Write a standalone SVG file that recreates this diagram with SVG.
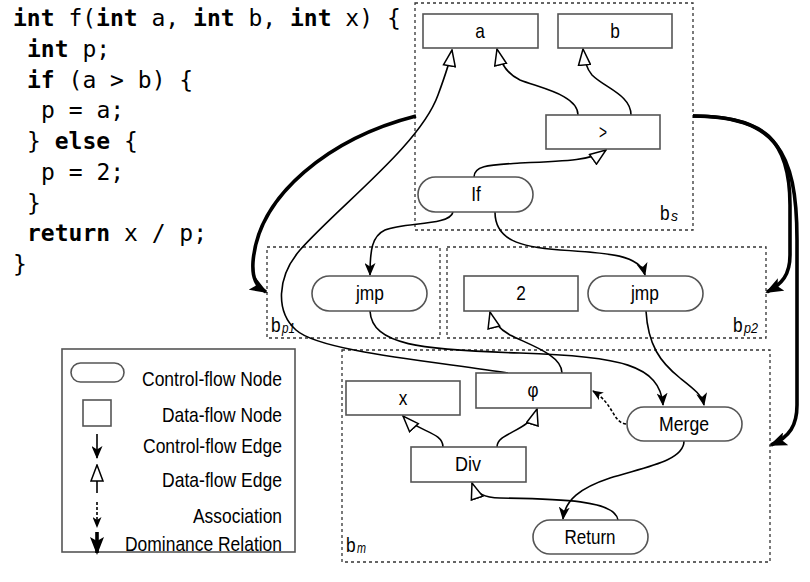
<svg xmlns="http://www.w3.org/2000/svg" width="810" height="582" viewBox="0 0 810 582">
<style>
.code{font-family:"DejaVu Sans Mono","Liberation Mono",monospace;font-size:23px;fill:#000}
.kw{font-weight:bold}
.lbl{font-family:"Liberation Sans Narrow","Liberation Sans",Arial,sans-serif;font-size:21px;fill:#000;text-anchor:middle}
.bl{font-family:"Liberation Sans Narrow","Liberation Sans",Arial,sans-serif;font-size:21px;fill:#000}
.sub{font-family:"Liberation Sans Narrow","Liberation Sans",Arial,sans-serif;font-style:italic;font-size:14px;fill:#000}
.leg{font-family:"Liberation Sans Narrow","Liberation Sans",Arial,sans-serif;font-size:21px;fill:#000;text-anchor:end}
.blk{fill:none;stroke:#333;stroke-width:1.3;stroke-dasharray:3 3}
.nd{fill:#fff;stroke:#555;stroke-width:1.6}
.e{fill:none;stroke:#000;stroke-width:1.6}
.cf{marker-end:url(#cf)}
.df{marker-end:url(#df)}
.as{stroke-dasharray:3 2;marker-end:url(#as)}
.dom{fill:none;stroke:#000;stroke-width:3.6;marker-end:url(#dom)}
</style>
<defs>
<marker id="cf" viewBox="0 0 13 11" refX="12" refY="5.5" markerWidth="13" markerHeight="11" markerUnits="userSpaceOnUse" orient="auto"><path d="M0,0 L13,5.5 L0,11 L3.5,5.5 z" fill="#000"/></marker>
<marker id="df" viewBox="-1 -1 18 14" refX="16" refY="6" markerWidth="18" markerHeight="14" markerUnits="userSpaceOnUse" orient="auto"><path d="M0,0 L16,6 L0,12 z" fill="#fff" stroke="#000" stroke-width="1.5"/></marker>
<marker id="as" viewBox="0 0 11 9" refX="10" refY="4.5" markerWidth="11" markerHeight="9" markerUnits="userSpaceOnUse" orient="auto"><path d="M0,0 L11,4.5 L0,9 L3,4.5 z" fill="#000"/></marker>
<marker id="dom" viewBox="0 0 18 14" refX="16" refY="7" markerWidth="18" markerHeight="14" markerUnits="userSpaceOnUse" orient="auto"><path d="M0,0 L18,7 L0,14 L4,7 z" fill="#000"/></marker>
</defs>

<g id="code" class="code" xml:space="preserve">
<text x="13" y="26"><tspan class="kw">int</tspan> f(<tspan class="kw">int</tspan> a, <tspan class="kw">int</tspan> b, <tspan class="kw">int</tspan> x) {</text>
<text x="27" y="57"><tspan class="kw">int</tspan> p;</text>
<text x="27" y="88"><tspan class="kw">if</tspan> (a &gt; b) {</text>
<text x="41" y="118">p = a;</text>
<text x="27" y="149">} <tspan class="kw">else</tspan> {</text>
<text x="41" y="180">p = 2;</text>
<text x="27" y="211">}</text>
<text x="27" y="241"><tspan class="kw">return</tspan> x / p;</text>
<text x="13" y="272">}</text>
</g>

<g id="blocks">
<g id="bs"><rect class="blk" x="415" y="3" width="278" height="227"/><text class="bl" x="660" y="220" textLength="9.6" lengthAdjust="spacingAndGlyphs">b</text><text class="sub" x="671" y="221">s</text></g>
<g id="bp1"><rect class="blk" x="267" y="247" width="173" height="91"/><text class="bl" x="271" y="332" textLength="9.6" lengthAdjust="spacingAndGlyphs">b</text><text class="sub" x="282" y="333" textLength="13" lengthAdjust="spacingAndGlyphs">p1</text></g>
<g id="bp2"><rect class="blk" x="447" y="247" width="319" height="91"/><text class="bl" x="733" y="332" textLength="9.6" lengthAdjust="spacingAndGlyphs">b</text><text class="sub" x="744" y="333" textLength="14" lengthAdjust="spacingAndGlyphs">p2</text></g>
<g id="bm"><rect class="blk" x="342" y="350" width="428" height="212"/><text class="bl" x="346" y="552" textLength="9.6" lengthAdjust="spacingAndGlyphs">b</text><text class="sub" x="357" y="553" textLength="9" lengthAdjust="spacingAndGlyphs">m</text></g>
</g>

<g id="connectors">
<path class="dom" d="M416,116 C330,138 258,195 253,262 C252,278 256,286 266,292"/>
<path class="dom" d="M693,116 C765,116 790,140 790,205 L790,255 C790,275 782,284 767,292"/>
<path class="dom" d="M693,116 C775,116 797,150 797,240 L797,405 C797,425 790,437 771,445"/>
<path class="e df" d="M508,373 C440,362 320,352 296,330 C276,312 276,278 300,250 C340,205 420,145 438,95 C445,76 450,62 452,50"/>
<path class="e df" d="M578,115 C578,95 540,88 520,80 C507,74 500,62 497,49"/>
<path class="e df" d="M631,115 C631,95 605,88 592,75 C586,68 584,60 583,49"/>
<path class="e df" d="M474,177 C474,165 490,165 520,163 C570,161 592,160 606,150"/>
<path class="e df" d="M562,373 C562,355 530,345 510,335 C498,328 492,320 490,312"/>
<path class="e df" d="M443,447 C443,432 418,432 403,416"/>
<path class="e df" d="M497,447 C497,432 530,432 537,409"/>
<path class="e df" d="M618,520 C615,500 560,499 500,498 C484,498 475,492 472,483"/>
<path class="e cf" d="M453,212 C450,226 405,222 385,230 C372,236 370,250 370,275"/>
<path class="e cf" d="M495,212 C495,240 520,247 560,250 C610,253 640,255 645,275"/>
<path class="e cf" d="M370,311 C372,345 420,350 520,353 C620,356 660,365 663,405"/>
<path class="e cf" d="M646,311 C648,345 660,362 680,378 C694,389 702,395 704,405"/>
<path class="e cf" d="M684,441 C684,462 640,468 610,478 C580,488 565,500 563,519"/>
<path class="e as" d="M626,424 C612,422 615,405 593,391"/>
</g>

<g id="n_a"><rect class="nd" x="423" y="14" width="115" height="34"/><text class="lbl" x="480" y="38" textLength="9.6" lengthAdjust="spacingAndGlyphs">a</text></g>
<g id="n_b"><rect class="nd" x="558" y="14" width="114" height="34"/><text class="lbl" x="615" y="38" textLength="9.6" lengthAdjust="spacingAndGlyphs">b</text></g>
<g id="n_gt"><rect class="nd" x="546" y="115" width="114" height="34"/><text class="lbl" x="603" y="139" textLength="8" lengthAdjust="spacingAndGlyphs">&gt;</text></g>
<g id="n_if"><rect class="nd" x="418" y="177" width="115" height="35" rx="17.5"/><text class="lbl" x="476" y="201" textLength="9.6" lengthAdjust="spacingAndGlyphs">If</text></g>
<g id="n_jmp1"><rect class="nd" x="312" y="276" width="115" height="35" rx="17.5"/><text class="lbl" x="370" y="300" textLength="28" lengthAdjust="spacingAndGlyphs">jmp</text></g>
<g id="n_2"><rect class="nd" x="464" y="276" width="114" height="35"/><text class="lbl" x="521" y="300" textLength="9.6" lengthAdjust="spacingAndGlyphs">2</text></g>
<g id="n_jmp2"><rect class="nd" x="588" y="276" width="115" height="35" rx="17.5"/><text class="lbl" x="645" y="300" textLength="28" lengthAdjust="spacingAndGlyphs">jmp</text></g>
<g id="n_x"><rect class="nd" x="346" y="381" width="114" height="34"/><text class="lbl" x="403" y="405" textLength="8.6" lengthAdjust="spacingAndGlyphs">x</text></g>
<g id="n_phi"><rect class="nd" x="476" y="373" width="115" height="35"/><text class="lbl" x="533" y="397" textLength="11" lengthAdjust="spacingAndGlyphs">φ</text></g>
<g id="n_merge"><rect class="nd" x="627" y="407" width="115" height="34" rx="17"/><text class="lbl" x="684" y="431" textLength="50" lengthAdjust="spacingAndGlyphs">Merge</text></g>
<g id="n_div"><rect class="nd" x="411" y="447" width="115" height="35"/><text class="lbl" x="468" y="471" textLength="26" lengthAdjust="spacingAndGlyphs">Div</text></g>
<g id="n_return"><rect class="nd" x="533" y="520" width="115" height="34" rx="17"/><text class="lbl" x="590" y="544" textLength="51" lengthAdjust="spacingAndGlyphs">Return</text></g>

<g id="legend">
<rect x="62" y="349" width="233" height="203" fill="#fff" stroke="#555" stroke-width="1.6"/>
<rect class="nd" x="71" y="363" width="53" height="19" rx="9.5"/>
<rect class="nd" x="83" y="400" width="28" height="26"/>
<path class="e cf" d="M97,434 L97,458"/>
<path class="e df" d="M97,493 L97,465"/>
<path class="e as" d="M97,502 L97,527"/>
<path class="dom" d="M97,532 L97,553"/>
<text class="leg" x="282" y="386" textLength="140" lengthAdjust="spacingAndGlyphs">Control-flow Node</text>
<text class="leg" x="282" y="422" textLength="120" lengthAdjust="spacingAndGlyphs">Data-flow Node</text>
<text class="leg" x="282" y="453" textLength="139" lengthAdjust="spacingAndGlyphs">Control-flow Edge</text>
<text class="leg" x="282" y="487" textLength="120" lengthAdjust="spacingAndGlyphs">Data-flow Edge</text>
<text class="leg" x="282" y="523" textLength="89" lengthAdjust="spacingAndGlyphs">Association</text>
<text class="leg" x="282" y="551" textLength="157" lengthAdjust="spacingAndGlyphs">Dominance Relation</text>
</g>
</svg>
